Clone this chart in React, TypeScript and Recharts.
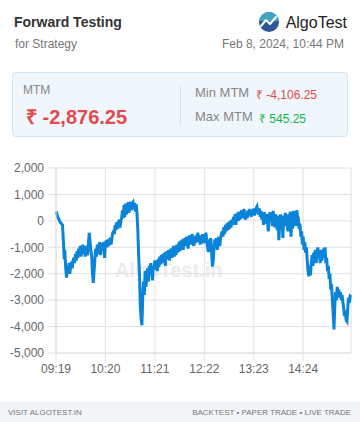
import React from 'react';
import { LineChart, Line, XAxis, YAxis, CartesianGrid } from 'recharts';

// one point per minute, starting 09:19
const startMinute = 9 * 60 + 19;

const mtmValues = [
  350, 280, 150, 100, 30, -50, -80, -120,
  -150, -700, -1300, -1250, -1800, -2150,
  -1700, -1900, -1600, -2000, -1750, -1550, -1800, -1500,
  -1400, -1600, -1250, -1500, -1150, -1400, -1050, -1300, -950, -1350,
  -1100, -900, -1250, -1000, -1350, -950, -1200, -1300, -850,
  -450, -800, -1100, -1300, -2000, -2350, -1900,
  -1450, -1050, -1350, -900, -1250, -950, -800, -1300, -1000, -850,
  -1050, -800, -1400, -850, -750, -1000, -700, -950, -750, -650, -900,
  -650, -450, -400, -500, -150, -350, -50, -300, -100, 50, -250, 0, 100,
  400, 100, 600, 150, 650, 250, 550, 700, 300, 600, 720, 400, 650, 700,
  450, 680, 350, 620, 250,
  -400, -1300, -2000, -3200, -3700, -3950, -2900,
  -2300, -2800, -1900, -2500, -2100,
  -1800, -2300, -1700, -2000, -1600, -1900, -2250, -1700, -1850, -1500, -1750, -1600, -1900,
  -1450, -1750, -1350, -1650, -1300, -1600, -1250, -1550, -1200, -1700,
  -1150, -1450, -1250, -1100, -1500, -1200, -1050, -1400, -1150, -950,
  -1350, -1050, -1300, -900, -1200,
  -1050, -800, -1150, -750, -1000, -700, -1100, -800, -650, -950,
  -600, -850, -1050, -650, -550, -900, -700, -500, -750, -950,
  -600, -850, -550, -800, -450, -750, -600, -900, -550, -800,
  -500, -850, -650,
  -600, -450, -800, -1000, -1180, -700, -900, -650, -1200, -1730,
  -1500, -1000, -700,
  -900, -650, -1100, -800, -600, -950, -700, -500, -400,
  -600, -250, -500, -150, -400, -100, -350, -50, -300, 0, -250, 50, -150, 150,
  0, 250, -150, 200, 300, 0, 350, 50, 250, 400,
  100, 300, 450, 150, 50, 350, 100, 400, 200, 450, 250,
  150, 420, 250, 470, 200, 380, 480, 545.25, 350, 250, 470, 150,
  380, 50, 280, -150, 330, 100, -100, 250, -50, -400, 150, 330,
  0, 280, -200, 380, 50, -250, 250, -50, -350, 200, -730, -200,
  250, -300, 100, -650, 200, -100, 300, -200, 150, -400,
  250, -50, 350, -600, 100, -300, 380, 0, 300, -200, 400, 200,
  100, -300, -100, -600, -400, -900, -600, -1100, -800, -1200, -1000, -1500,
  -1900, -2100, -1700, -2050, -1600, -1300,
  -1700, -1200, -1500, -1100, -1600, -1300, -1000,
  -1400, -1200, -1600, -1100, -1500, -1300, -1050, -1400, -1000,
  -1600, -1400, -1900, -1700, -2200, -2000, -2600, -2400,
  -3000, -3500, -4106.25,
  -3200, -2700, -3000, -2500,
  -2800, -2600, -2900, -2700, -3000, -2800,
  -3100, -3300, -3600, -3400, -3750, -3800,
  -3300, -2900, -3100, -2850, -2876.25,
];

const timeLabels = mtmValues.map((_, i) => {
  const m = startMinute + i;
  return `${String(Math.floor(m / 60)).padStart(2, '0')}:${String(m % 60).padStart(2, '0')}`;
});

const xTicks = ['09:19', '10:20', '11:21', '12:22', '13:23', '14:24'];
const yTicks = [2000, 1000, 0, -1000, -2000, -3000, -4000, -5000];

const chartData = timeLabels.map((time, i) => ({ time, mtm: mtmValues[i] }));

const FONT = '"Liberation Sans", Arial, sans-serif';
const RED = '#e5484d';
const GREEN = '#14b34f';
const GRID = '#e0e0e0';

const Logo = () => (
  <svg width={20} height={20} viewBox="0 0 20 20">
    <defs>
      <clipPath id="lc"><circle cx={10} cy={10} r={10} /></clipPath>
    </defs>
    <g clipPath="url(#lc)">
      <rect x={0} y={0} width={20} height={20} fill="#2f5597" />
      <rect x={0} y={0} width={20} height={9} fill="#3ea8c2" />
    </g>
    <polyline points="2,14 7,8 11,12 17,5" fill="none" stroke="#fff" strokeWidth={2} strokeLinejoin="round" strokeLinecap="round" />
  </svg>
);

export default function App() {
  return (
    <div style={{ position: 'absolute', left: 0, top: 0, width: 360, height: 422, background: '#fff', fontFamily: FONT, overflow: 'hidden' }}>
      {/* header */}
      <div style={{ position: 'absolute', left: 14, top: 14, fontSize: 14, fontWeight: 700, color: '#333' }}>Forward Testing</div>
      <div style={{ position: 'absolute', left: 15, top: 37, fontSize: 12, color: '#777' }}>for Strategy</div>
      <div style={{ position: 'absolute', left: 259, top: 12 }}><Logo /></div>
      <div style={{ position: 'absolute', right: 13, top: 14, fontSize: 16, color: '#222' }}>AlgoTest</div>
      <div style={{ position: 'absolute', right: 16, top: 37, fontSize: 12, color: '#777' }}>Feb 8, 2024, 10:44 PM</div>

      {/* MTM card */}
      <div style={{ position: 'absolute', left: 12, top: 72, width: 334, height: 63, background: '#eff6fc', border: '1px solid #d3e6f5', borderRadius: 4 }}>
        <div style={{ position: 'absolute', left: 10, top: 10, fontSize: 12, color: '#888' }}>MTM</div>
        <div style={{ position: 'absolute', left: 13, top: 30, fontSize: 20, fontWeight: 700, color: RED }}>₹ -2,876.25</div>
        <div style={{ position: 'absolute', left: 167, top: 12, width: 1, height: 40, background: '#cfe1ef' }} />
        <div style={{ position: 'absolute', left: 182, top: 12, fontSize: 13, color: '#888' }}>Min MTM</div>
        <div style={{ position: 'absolute', left: 243, top: 13, fontSize: 12, color: RED }}>₹ -4,106.25</div>
        <div style={{ position: 'absolute', left: 182, top: 36, fontSize: 13, color: '#888' }}>Max MTM</div>
        <div style={{ position: 'absolute', left: 246, top: 37, fontSize: 12, color: GREEN }}>₹ 545.25</div>
      </div>

      {/* watermark */}
      <div style={{ position: 'absolute', left: 115, top: 259, fontSize: 20, fontWeight: 700, color: '#ececec' }}>AlgoTest.in</div>

      <div style={{ position: 'absolute', left: 0, top: 150 }}>
        <LineChart width={360} height={240} data={chartData} margin={{ top: 18, right: 9, left: 0, bottom: 7 }}>
          <CartesianGrid stroke={GRID} />
          <XAxis
            dataKey="time"
            ticks={xTicks}
            interval={0}
            tickSize={8}
            tickMargin={3}
            stroke={GRID}
            tick={{ fill: '#666', fontSize: 12, fontFamily: FONT }}
            height={30}
          />
          <YAxis
            domain={[-5000, 2000]}
            ticks={yTicks}
            width={56}
            tickSize={8}
            tickMargin={4}
            stroke={GRID}
            tick={{ fill: '#666', fontSize: 12, fontFamily: FONT }}
            tickFormatter={(v: number) => v.toLocaleString('en-US')}
          />
          <Line type="linear" dataKey="mtm" stroke="#0a84d8" strokeWidth={3} dot={false} isAnimationActive={false} />
        </LineChart>
      </div>

      {/* footer */}
      <div style={{ position: 'absolute', left: 0, top: 402, width: 360, height: 20, background: '#f2f5f8' }}>
        <div style={{ position: 'absolute', left: 8, top: 6, fontSize: 8, color: '#777' }}>VISIT ALGOTEST.IN</div>
        <div style={{ position: 'absolute', right: 9, top: 6, fontSize: 8, color: '#777' }}>BACKTEST • PAPER TRADE • LIVE TRADE</div>
      </div>
    </div>
  );
}
